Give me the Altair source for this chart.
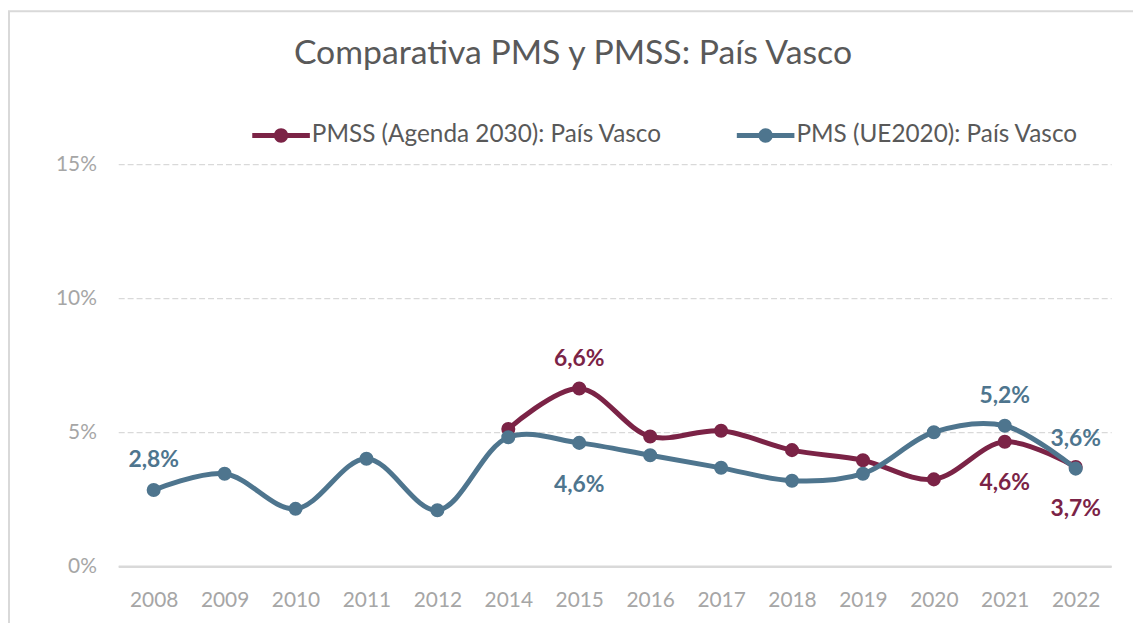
import altair as alt
import pandas as pd

years = ["2008", "2009", "2010", "2011", "2012", "2014", "2015",
         "2016", "2017", "2018", "2019", "2020", "2021", "2022"]
pms_values = [2.84, 3.45, 2.14, 4.01, 2.09, 4.81, 4.60,
              4.14, 3.67, 3.19, 3.45, 5.00, 5.24, 3.64]
pmss_values = [None, None, None, None, None, 5.12, 6.63,
               4.84, 5.05, 4.33, 3.95, 3.24, 4.64, 3.70]

title_text = "Comparativa PMS y PMSS: País Vasco"
series_pmss = "PMSS (Agenda 2030): País Vasco"
series_pms = "PMS (UE2020): País Vasco"
series_names = [series_pmss, series_pms]
series_colors = ["#7B2346", "#4E758E"]

pms_labels_above = ["2008", "2021", "2022"]
pms_labels_below = ["2015"]
pmss_labels_above = ["2015"]
pmss_labels_below = ["2021", "2022"]

rows = []
for name, vals, above, below in [
    (series_pmss, pmss_values, pmss_labels_above, pmss_labels_below),
    (series_pms, pms_values, pms_labels_above, pms_labels_below),
]:
    for y, v in zip(years, vals):
        if v is None:
            continue
        pos = "above" if y in above else ("below" if y in below else "none")
        rows.append({
            "year": y, "value": v / 100.0, "serie": name,
            "label": f"{v:.1f}".replace(".", ",") + "%", "pos": pos,
        })
df = pd.DataFrame(rows)

FONT = "Lato"
color_scale = alt.Scale(domain=series_names, range=series_colors)
x_enc = alt.X("year:O", sort=years, scale=alt.Scale(type="point", padding=0.5),
              axis=alt.Axis(title=None, labelAngle=0, ticks=False, domain=True,
                            domainColor="#D9D9D9", domainWidth=2.5,
                            labelColor="#A6A6A6", labelFontSize=21,
                            labelPadding=24, labelFont=FONT))
y_enc = alt.Y("value:Q", scale=alt.Scale(domain=[0, 0.15]),
              axis=alt.Axis(title=None, format=".0%", values=[0, 0.05, 0.10, 0.15],
                            domain=False, ticks=False, grid=True,
                            gridColor="#D9D9D9", gridDash=[6, 3], gridWidth=1.2,
                            labelColor="#A6A6A6", labelFontSize=21,
                            labelPadding=22, labelFont=FONT))

color_enc = alt.Color("serie:N", scale=color_scale, sort=series_names,
                      legend=alt.Legend(
                          title=None, orient="none", legendX=135, legendY=-58,
                          direction="horizontal", columns=2, columnPadding=75,
                          labelFont=FONT, labelFontSize=24.5, labelColor="#595959",
                          labelLimit=0,
                          symbolType="M-1,-0.09 H1 V0.09 H-1 Z M0.25,0 A0.25,0.25 0 1,1 -0.25,0 A0.25,0.25 0 1,1 0.25,0 Z",
                          symbolSize=3364, symbolStrokeWidth=0, labelOffset=2,
                          symbolOpacity=1))

base = alt.Chart(df)


def series_layers(name, color):
    d = base.transform_filter(alt.datum.serie == name)
    line = d.mark_line(strokeWidth=5, interpolate="catmull-rom").encode(
        x=x_enc, y=y_enc, color=color_enc)
    pts = d.mark_point(filled=True, size=200, opacity=1).encode(
        x=x_enc, y=y_enc, color=color_enc)
    above = d.transform_filter(alt.datum.pos == "above").mark_text(
        font=FONT, fontSize=23, fontWeight="bold", dy=-30, color=color).encode(
        x=x_enc, y=y_enc, text="label:N")
    below = d.transform_filter(alt.datum.pos == "below").mark_text(
        font=FONT, fontSize=23, fontWeight="bold", dy=42, color=color).encode(
        x=x_enc, y=y_enc, text="label:N")
    return [line, pts, above, below]


deco = alt.Chart(pd.DataFrame({"t": [title_text]}))
frame = deco.mark_rect(fillOpacity=0, stroke="#D9D9D9", strokeWidth=2).encode(
    x=alt.value(-110), x2=alt.value(1100), y=alt.value(-154), y2=alt.value(600))
title = deco.mark_text(font=FONT, fontSize=34, color="#595959", align="center",
                       baseline="middle").encode(
    x=alt.value(458), y=alt.value(-111), text="t:N")

layers = [frame, title] + series_layers(series_pmss, series_colors[0]) + series_layers(series_pms, series_colors[1])

chart = alt.layer(*layers).properties(
    width=1000, height=405,
    autosize=alt.AutoSizeParams(type="none"),
    padding={"left": 111, "top": 155, "right": 22, "bottom": 55},
    background="white",
).configure_view(strokeWidth=0, stroke=None)

chart.save("out.html", embed_options={"renderer": "svg", "actions": False})
